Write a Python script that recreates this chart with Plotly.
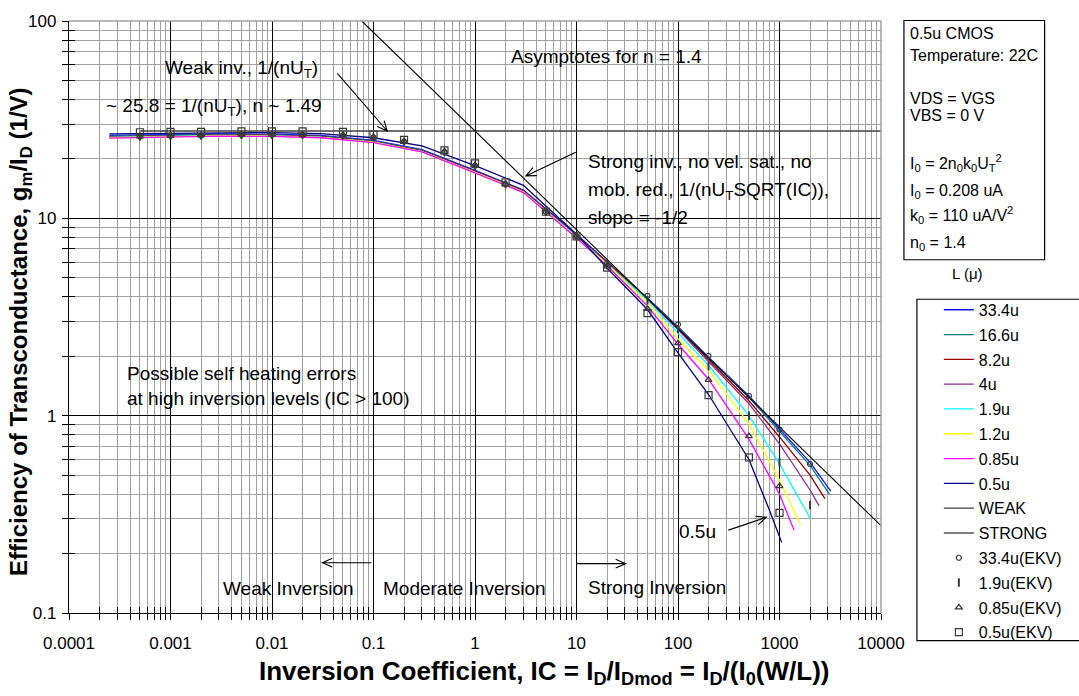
import plotly.graph_objects as go

# ---------------- data ----------------
IC_334 = [0.00025, 0.001, 0.003, 0.01, 0.03, 0.1, 0.3, 1, 3, 10, 20, 50, 100, 200, 500, 1000, 2000, 3200]
GM_334 = [26.3, 26.6, 26.8, 26.7, 26.3, 24.8, 22.3, 17.5, 13.9, 8.3, 6.05, 3.95, 2.82, 1.98, 1.26, 0.86, 0.58, 0.415]

IC_166 = [0.00025, 0.001, 0.003, 0.01, 0.03, 0.1, 0.3, 1, 3, 10, 20, 50, 100, 200, 500, 1000, 2000, 3100]
GM_166 = [26.0, 26.4, 26.6, 26.5, 26.1, 24.6, 22.1, 17.3, 13.8, 8.2, 6.0, 3.93, 2.80, 1.96, 1.24, 0.83, 0.56, 0.40]

IC_82 = [0.00025, 0.001, 0.003, 0.01, 0.03, 0.1, 0.3, 1, 3, 10, 20, 50, 100, 200, 500, 1000, 2000, 2800]
GM_82 = [25.9, 26.3, 26.5, 26.4, 26.0, 24.5, 22.0, 17.3, 13.8, 8.2, 6.0, 3.9, 2.76, 1.92, 1.19, 0.78, 0.50, 0.38]

IC_4 = [0.00025, 0.001, 0.003, 0.01, 0.03, 0.1, 0.3, 1, 3, 10, 20, 50, 100, 200, 500, 1000, 2000, 2450]
GM_4 = [25.8, 26.2, 26.4, 26.3, 25.9, 24.4, 21.9, 17.2, 13.7, 8.15, 5.95, 3.88, 2.72, 1.88, 1.15, 0.72, 0.42, 0.35]

IC_19 = [0.00025, 0.001, 0.003, 0.01, 0.03, 0.1, 0.3, 1, 3, 10, 20, 50, 100, 200, 500, 1000, 2020]
GM_19 = [25.7, 26.1, 26.3, 26.2, 25.8, 24.3, 21.8, 17.1, 13.6, 8.1, 5.9, 3.85, 2.62, 1.80, 1.0, 0.57, 0.30]

IC_12 = [0.00025, 0.001, 0.003, 0.01, 0.03, 0.1, 0.3, 1, 3, 10, 20, 50, 100, 200, 500, 1000, 1610]
GM_12 = [25.6, 26.0, 26.2, 26.1, 25.7, 24.3, 21.8, 17.1, 13.6, 8.0, 5.85, 3.75, 2.45, 1.70, 0.91, 0.47, 0.28]

IC_085 = [0.00025, 0.001, 0.003, 0.01, 0.03, 0.1, 0.3, 1, 3, 10, 20, 50, 100, 200, 500, 1000, 1390]
GM_085 = [25.5, 25.9, 26.1, 26.0, 25.6, 24.2, 21.7, 17.0, 13.5, 7.95, 5.75, 3.6, 2.30, 1.53, 0.76, 0.40, 0.263]

IC_05 = [0.00025, 0.001, 0.003, 0.01, 0.03, 0.1, 0.3, 1, 3, 10, 20, 50, 100, 200, 500, 800, 1050]
GM_05 = [26.8, 27.0, 27.2, 27.2, 26.9, 25.6, 23.3, 18.5, 14.7, 8.3, 5.6, 3.45, 2.08, 1.28, 0.6, 0.33, 0.228]

WEAK_IC = [0.0005, 10000]
WEAK_GM = [27.7, 27.7]
STRONG_IC = [0.0767, 10000]
STRONG_GM = [100, 0.277]

EKV_IC = [0.0005, 0.001, 0.002, 0.005, 0.01, 0.02, 0.05, 0.1, 0.2, 0.5, 1, 2, 5, 10,
          20, 50, 100, 200, 500, 1000, 2000]
EKV_334 = [26.0, 26.2, 26.3, 26.5, 26.5, 26.5, 26.3, 25.7, 24.5, 21.7, 18.5, 14.9, 10.8, 8.1,
           5.9, 4.05, 2.90, 2.01, 1.26, 0.851, 0.569]
EKV_19 = [26.0, 26.2, 26.3, 26.5, 26.5, 26.5, 26.3, 25.7, 24.5, 21.7, 18.5, 14.9, 10.8, 8.1,
          5.8, 3.85, 2.75, 1.78, 1.0, 0.58, 0.352]
EKV_085_IC = [0.0005, 0.001, 0.002, 0.005, 0.01, 0.02, 0.05, 0.1, 0.2, 0.5, 1, 2, 5, 10,
              20, 50, 100, 200, 500, 1000]
EKV_085 = [26.0, 26.2, 26.3, 26.5, 26.5, 26.5, 26.3, 25.7, 24.5, 21.7, 18.5, 14.9, 10.8, 8.1,
           5.7, 3.48, 2.33, 1.52, 0.788, 0.44]
EKV_05_IC = [0.0005, 0.001, 0.002, 0.005, 0.01, 0.02, 0.05, 0.1, 0.2, 0.5, 1, 2, 5, 10,
             20, 50, 100, 200, 500, 1000]
EKV_05 = [27.3, 27.4, 27.4, 27.6, 27.6, 27.6, 27.4, 26.6, 25.0, 22.1, 19.0, 15.2, 10.8, 8.1,
          5.62, 3.31, 2.10, 1.27, 0.614, 0.322]

X_TICKS = [0.0001, 0.001, 0.01, 0.1, 1, 10, 100, 1000, 10000]
X_TICK_TEXT = ["0.0001", "0.001", "0.01", "0.1", "1", "10", "100", "1000", "10000"]
Y_TICKS = [0.1, 1, 10, 100]
Y_TICK_TEXT = ["0.1", "1", "10", "100"]

# ---------------- figure ----------------
W, H = 1079, 696
ML, MR, MT, MB = 69, 196, 13, 83
PW, PH = W - ML - MR, H - MT - MB


def px(x):
    return (x - ML) / PW


def py(y):
    return (H - MB - y) / PH


FONT = "Liberation Sans, Arial, sans-serif"
MK = "#3a3a3a"

fig = go.Figure()

curves = [
    ("33.4u", IC_334, GM_334, "#1010ff"),
    ("16.6u", IC_166, GM_166, "#008080"),
    ("8.2u", IC_82, GM_82, "#990000"),
    ("4u", IC_4, GM_4, "#8e2b8e"),
    ("1.9u", IC_19, GM_19, "#00ffff"),
    ("1.2u", IC_12, GM_12, "#ffff00"),
    ("0.85u", IC_085, GM_085, "#ff00ff"),
    ("0.5u", IC_05, GM_05, "#000080"),
]
for i, (name, xs, ys, col) in enumerate(curves):
    fig.add_trace(go.Scatter(x=xs, y=ys, mode="lines", name=name,
                             line=dict(color=col, width=1.3), legendgroup=f"g{i}"))

fig.add_trace(go.Scatter(x=WEAK_IC, y=WEAK_GM, mode="lines", name="WEAK",
                         line=dict(color="#404040", width=1.3), legendgroup="g8"))
fig.add_trace(go.Scatter(x=STRONG_IC, y=STRONG_GM, mode="lines", name="STRONG",
                         line=dict(color="black", width=1.1), legendgroup="g9"))

fig.add_trace(go.Scatter(x=EKV_IC, y=EKV_334, mode="markers", name="33.4u(EKV)",
                         marker=dict(symbol="circle-open", size=5, color=MK, line=dict(width=1.2)),
                         legendgroup="g10"))
fig.add_trace(go.Scatter(x=EKV_IC, y=EKV_19, mode="markers", name="1.9u(EKV)",
                         marker=dict(symbol="line-ns", size=6, color=MK, line=dict(width=2, color=MK)),
                         legendgroup="g11"))
fig.add_trace(go.Scatter(x=EKV_085_IC, y=EKV_085, mode="markers", name="0.85u(EKV)",
                         marker=dict(symbol="triangle-up-open", size=6, color=MK, line=dict(width=1.2)),
                         legendgroup="g12"))
fig.add_trace(go.Scatter(x=EKV_05_IC, y=EKV_05, mode="markers", name="0.5u(EKV)",
                         marker=dict(symbol="square-open", size=7, color=MK, line=dict(width=1.2)),
                         legendgroup="g13"))

# empty trace so that the overlay axes (inner half of the crossing ticks) are drawn
fig.add_trace(go.Scatter(x=[None], y=[None], xaxis="x2", yaxis="y2", showlegend=False,
                         hoverinfo="skip"))

axis_common = dict(
    type="log",
    showline=True, linecolor="black", linewidth=1.3,
    showgrid=True, gridcolor="black", gridwidth=1,
    ticks="outside", ticklen=6, tickcolor="black", tickwidth=1,
    tickfont=dict(family=FONT, size=17, color="black"),
    zeroline=False,
    minor=dict(dtick="D1", showgrid=True, gridcolor="#a0a0a0", gridwidth=1,
               ticks="outside", ticklen=6, tickcolor="black", tickwidth=1),
)
fig.update_xaxes(range=[-4, 4], tickmode="array", tickvals=X_TICKS, ticktext=X_TICK_TEXT,
                 ticklabelstandoff=8, **axis_common)
fig.update_yaxes(range=[-1, 2], tickmode="array", tickvals=Y_TICKS, ticktext=Y_TICK_TEXT,
                 ticklabelstandoff=2, **axis_common)

inner = dict(type="log", showline=False, showgrid=False, zeroline=False,
             showticklabels=False, ticks="inside", ticklen=6, tickcolor="black", tickwidth=1,
             minor=dict(dtick="D1", showgrid=False, ticks="inside", ticklen=6,
                        tickcolor="black", tickwidth=1))
fig.update_layout(
    xaxis2=dict(range=[-4, 4], overlaying="x", side="bottom", anchor="y2",
                tickmode="array", tickvals=X_TICKS, **inner),
    yaxis2=dict(range=[-1, 2], overlaying="y", side="left", anchor="x2",
                tickmode="array", tickvals=Y_TICKS, **inner),
)

shapes = []
# gray top & right frame
shapes.append(dict(type="line", xref="paper", yref="paper", x0=0, x1=1, y0=1, y1=1,
                   line=dict(color="#a0a0a0", width=1.5), layer="above"))
shapes.append(dict(type="line", xref="paper", yref="paper", x0=1, x1=1, y0=0, y1=1,
                   line=dict(color="#a0a0a0", width=1.5), layer="above"))
# info box
shapes.append(dict(type="rect", xref="paper", yref="paper", x0=px(906), x1=px(1047),
                   y0=py(255), y1=py(12.5), line=dict(color="black", width=1.2),
                   fillcolor="white", layer="above"))
# legend box
shapes.append(dict(type="rect", xref="paper", yref="paper", x0=px(919), x1=px(1090),
                   y0=py(641), y1=py(295), line=dict(color="black", width=1.2), layer="above"))


def arrow(x0, y0, x1, y1, head=10, half=4.5):
    import math
    dx, dy = x1 - x0, y1 - y0
    L = math.hypot(dx, dy)
    ux, uy = dx / L, dy / L
    bx, by = x1 - ux * head, y1 - uy * head
    nx, ny = -uy, ux
    p1 = (bx + nx * half, by + ny * half)
    p2 = (bx - nx * half, by - ny * half)

    def P(x, y):
        return f"{px(x):.5f},{py(y):.5f}"
    path = (f"M{P(x0, y0)} L{P(x1, y1)} M{P(*p1)} L{P(x1, y1)} L{P(*p2)}")
    return dict(type="path", xref="paper", yref="paper", path=path,
                line=dict(color="black", width=1.1), layer="above")


shapes.append(arrow(338, 66, 388, 124.5))
shapes.append(arrow(577, 146, 527, 170))
shapes.append(arrow(372, 562, 323, 562))
shapes.append(arrow(578, 563, 627, 563))
shapes.append(arrow(730, 529, 768, 516))
fig.update_layout(shapes=shapes)

ann = []


def txt(t, x, y, size=19, xanchor="left", **kw):
    ann.append(dict(text=t, x=px(x), y=py(y), xref="paper", yref="paper",
                    showarrow=False, xanchor=xanchor, yanchor="middle",
                    font=dict(family=FONT, size=size, color="black"), **kw))


txt("Weak inv., 1/(nU<sub>T</sub>)", 163, 62)
txt("~ 25.8 = 1/(nU<sub>T</sub>), n ~ 1.49", 104, 100)
txt("Asymptotes for n = 1.4", 510, 49)
txt("Strong inv., no vel. sat., no", 587, 155)
txt("mob. red., 1/(nU<sub>T</sub>SQRT(IC)),", 587, 185)
txt("slope = -1/2", 587, 212)
txt("Possible self heating errors", 125, 370)
txt("at high inversion levels (IC > 100)", 125, 396)
txt("Weak Inversion", 221, 588)
txt("Moderate Inversion", 382, 588)
txt("Strong Inversion", 587, 587)
txt("0.5u", 678, 530)

info = [("0.5u CMOS", 25.7), ("Temperature: 22C", 48.3), ("VDS = VGS", 91.7),
        ("VBS = 0 V", 108.3),
        ("I<sub>0</sub> = 2n<sub>0</sub>k<sub>0</sub>U<sub>T</sub><sup>2</sup>", 157),
        ("I<sub>0</sub> = 0.208 uA", 186), ("k<sub>0</sub> = 110 uA/V<sup>2</sup>", 210),
        ("n<sub>0</sub> = 1.4", 239)]
for t, yy in info:
    txt(t, 910, yy, size=16)

txt("L (μ)", 970, 269, size=15, xanchor="center")

# axis titles
ann.append(dict(text="<b>Inversion Coefficient, IC = I<sub>D</sub>/I<sub>Dmod</sub> = I<sub>D</sub>/(I<sub>0</sub>(W/L))</b>",
                x=px(545), y=py(673), xref="paper", yref="paper", showarrow=False,
                xanchor="center", yanchor="middle",
                font=dict(family=FONT, size=26, color="black")))
ann.append(dict(text="<b>Efficiency of Transconductance, g<sub>m</sub>/I<sub>D</sub> (1/V)</b>",
                x=px(21), y=py(328), xref="paper", yref="paper", showarrow=False,
                xanchor="center", yanchor="middle", textangle=-90,
                font=dict(family=FONT, size=24, color="black")))

fig.update_layout(
    annotations=ann,
    width=W, height=H,
    margin=dict(l=ML, r=MR, t=MT, b=MB, pad=0),
    paper_bgcolor="white", plot_bgcolor="white",
    font=dict(family=FONT, color="black"),
    showlegend=True,
    legend=dict(x=px(941), y=py(288.5), xanchor="left", yanchor="top",
                bgcolor="rgba(0,0,0,0)", borderwidth=0,
                font=dict(family=FONT, size=16, color="black"),
                tracegroupgap=1, traceorder="grouped"),
)

fig.write_html("out.html")
